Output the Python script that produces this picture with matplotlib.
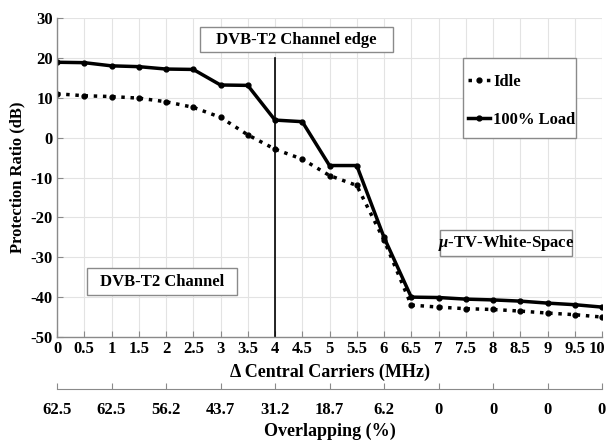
import matplotlib
matplotlib.use("Agg")
import matplotlib.pyplot as plt
import matplotlib.transforms as mtransforms
from matplotlib.patches import Rectangle

plt.rcParams['font.family'] = ['Liberation Serif', 'DejaVu Serif']
plt.rcParams['font.weight'] = 'bold'
plt.rcParams['mathtext.fontset'] = 'custom'
plt.rcParams['mathtext.it'] = 'Liberation Serif:italic'
plt.rcParams['mathtext.rm'] = 'Liberation Serif:bold'

x = [0, 0.5, 1, 1.5, 2, 2.5, 3, 3.5, 4, 4.5, 5, 5.5, 6, 6.5, 7, 7.5, 8, 8.5, 9, 9.5, 10]
idle = [11.0, 10.5, 10.3, 9.9, 9.0, 7.6, 5.1, 0.7, -2.9, -5.4, -9.5, -12.0, -25.7,
        -42.0, -42.5, -42.9, -43.1, -43.5, -44.0, -44.4, -45.0]
load = [18.9, 18.8, 18.0, 17.8, 17.2, 17.1, 13.2, 13.1, 4.4, 4.0, -7.0, -7.0, -25.0,
        -40.0, -40.1, -40.5, -40.7, -41.0, -41.5, -41.9, -42.5]
xticks = [0, 0.5, 1, 1.5, 2, 2.5, 3, 3.5, 4, 4.5, 5, 5.5, 6, 6.5, 7, 7.5, 8, 8.5, 9, 9.5, 10]
xticklabels = ['0', '0.5', '1', '1.5', '2', '2.5', '3', '3.5', '4', '4.5', '5', '5.5', '6',
               '6.5', '7', '7.5', '8', '8.5', '9', '9.5', '10']
yticks = [-50, -40, -30, -20, -10, 0, 10, 20, 30]
overlap_pos = [0, 1, 2, 3, 4, 5, 6, 7, 8, 9, 10]
overlap_labels = ['62.5', '62.5', '56.2', '43.7', '31.2', '18.7', '6.2', '0', '0', '0', '0']

fig = plt.figure(figsize=(6.08, 4.43), dpi=100)
L, R, B, T = 57/608, 602/608, (443-337)/443, (443-18)/443
ax = fig.add_axes([L, B, R-L, T-B])

ax.plot(x, idle, linestyle=':', color='black', linewidth=2.5, marker='o', markersize=3.5,
        label='Idle')
ax.plot(x, load, linestyle='-', color='black', linewidth=2.5, marker='o', markersize=3.5,
        label='100% Load')
ax.plot([4, 4], [-50, 20], color='black', linewidth=1.2)

ax.set_xlim(0, 10)
ax.set_ylim(-50, 30)
ax.set_xticks(xticks)
ax.set_xticklabels(xticklabels, fontsize=12, fontweight='bold')
ax.set_yticks(yticks)
ax.set_yticklabels([str(v) for v in yticks], fontsize=12, fontweight='bold')
ax.grid(True, color='#e3e3e3', linewidth=0.8)
ax.set_axisbelow(True)
for s in ['top', 'right']:
    ax.spines[s].set_visible(False)
for s in ['left', 'bottom']:
    ax.spines[s].set_color('#8a8a8a')
    ax.spines[s].set_linewidth(1.0)
ax.tick_params(direction='in', length=4, color='#8a8a8a', pad=3)
lbls = ax.get_xticklabels()
lbls[-1].set_transform(lbls[-1].get_transform() +
                       mtransforms.ScaledTranslation(-5/100, 0, fig.dpi_scale_trans))
ax.set_xlabel('Δ Central Carriers (MHz)', fontsize=13, fontweight='bold', labelpad=5)
ax.set_ylabel('Protection Ratio (dB)', fontsize=12, fontweight='bold', labelpad=4)

# legend frame drawn as a rectangle (axes fraction), legend itself frameless
ax.add_patch(Rectangle(((463-57)/545, (337-138)/319), (576-463)/545, 80/319,
                       transform=ax.transAxes, facecolor='white', edgecolor='#8a8a8a',
                       linewidth=1.0, zorder=4))
leg = ax.legend(loc='upper left', bbox_to_anchor=((463-57)/545, (337-69)/319),
                prop={'weight': 'bold', 'size': 12}, frameon=False, numpoints=1,
                handlelength=1.3, handletextpad=0.2, labelspacing=1.3,
                borderpad=0.3, borderaxespad=0)
leg.set_zorder(6)

def box(x0, x1, y0, y1):
    ax.add_patch(Rectangle((x0, y0), x1 - x0, y1 - y0, facecolor='white',
                           edgecolor='#8a8a8a', linewidth=1.0, zorder=4))

box(2.62, 6.17, 21.5, 27.8)
ax.text(4.39, 24.6, 'DVB-T2 Channel edge', ha='center', va='center', fontsize=12,
        fontweight='bold', zorder=5)
box(0.55, 3.30, -39.4, -32.7)
ax.text(1.93, -36.1, 'DVB-T2 Channel', ha='center', va='center', fontsize=12,
        fontweight='bold', zorder=5)
box(7.03, 9.45, -29.6, -23.1)
ax.text(8.24, -26.4, r'$\mu$-TV-White-Space', ha='center', va='center', fontsize=12,
        fontweight='bold', zorder=5)

ax2 = fig.add_axes([L, (443-389)/443, R-L, 0.0001])
ax2.set_xlim(0, 10)
ax2.set_yticks([])
for s in ['top', 'right', 'left']:
    ax2.spines[s].set_visible(False)
ax2.spines['bottom'].set_color('#8a8a8a')
ax2.set_xticks(overlap_pos)
ax2.set_xticklabels(overlap_labels, fontsize=12, fontweight='bold')
ax2.tick_params(axis='x', direction='in', length=4, color='#8a8a8a', pad=9)
ax2.set_xlabel('Overlapping (%)', fontsize=13, fontweight='bold', labelpad=4)
ax2.patch.set_visible(False)

fig.savefig('out.png', dpi=100)
